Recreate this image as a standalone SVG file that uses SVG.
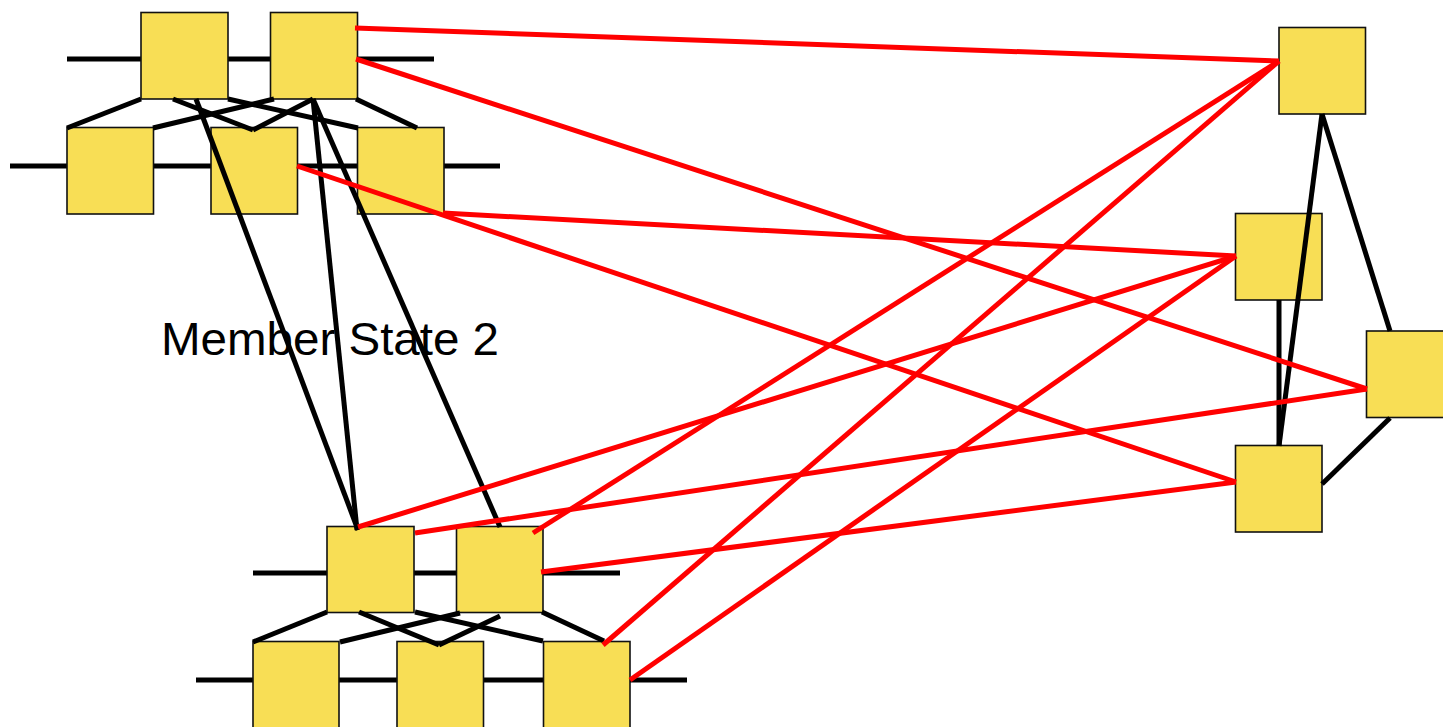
<svg xmlns="http://www.w3.org/2000/svg" width="1443" height="727" viewBox="0 0 1443 727">
<style>
.node rect{fill:#F8DE55;stroke:#111;stroke-width:1.6}
.bus line,.blk line{stroke:#000;stroke-width:5;stroke-linecap:butt}
.red line{stroke:#FF0000;stroke-width:5;stroke-linecap:butt}
.lbl{font-family:"Liberation Sans",Arial,sans-serif;font-size:46px;fill:#000}
</style>
<rect width="1443" height="727" fill="#fff"/>
<g id="buses" class="bus">
<line x1="67" y1="59" x2="434" y2="59"/>
<line x1="10" y1="166" x2="500" y2="166"/>
<line x1="253" y1="573" x2="620" y2="573"/>
<line x1="196" y1="680" x2="687" y2="680"/>
</g>
<g id="nodeA" class="node"><rect x="141" y="12.5" width="87" height="86.5"/></g>
<g id="nodeB" class="node"><rect x="270.5" y="12.5" width="87" height="86.5"/></g>
<g id="nodeC" class="node"><rect x="67" y="127.5" width="86.5" height="86.5"/></g>
<g id="nodeD" class="node"><rect x="211" y="127.5" width="86.5" height="86.5"/></g>
<g id="nodeE" class="node"><rect x="357.5" y="127.5" width="86.5" height="86.5"/></g>
<g id="nodeF" class="node"><rect x="327" y="526.5" width="87" height="86"/></g>
<g id="nodeG" class="node"><rect x="456.5" y="526.5" width="86.5" height="86"/></g>
<g id="nodeH" class="node"><rect x="253" y="641.5" width="86" height="90"/></g>
<g id="nodeI" class="node"><rect x="397" y="641.5" width="86.5" height="90"/></g>
<g id="nodeJ" class="node"><rect x="543.5" y="641.5" width="86.5" height="90"/></g>
<g id="nodeK" class="node"><rect x="1279" y="27.5" width="86.5" height="86.5"/></g>
<g id="nodeM" class="node"><rect x="1235.5" y="213.5" width="86.5" height="86.5"/></g>
<g id="nodeN" class="node"><rect x="1366.5" y="331" width="86.5" height="86.5"/></g>
<g id="nodeL" class="node"><rect x="1235.5" y="445.5" width="86.5" height="86.5"/></g>
<g id="connectors">
<g class="blk">
<line x1="141" y1="99" x2="67" y2="128"/>
<line x1="173" y1="99" x2="253" y2="130"/>
<line x1="274" y1="99" x2="153" y2="128"/>
<line x1="313" y1="99" x2="253" y2="130"/>
<line x1="228" y1="99" x2="358" y2="128"/>
<line x1="356" y1="99" x2="417" y2="128"/>
<line x1="196" y1="99" x2="358" y2="530"/>
<line x1="313" y1="99" x2="357" y2="530"/>
<line x1="313" y1="99" x2="500" y2="527"/>
<line x1="327" y1="612" x2="253" y2="642"/>
<line x1="359" y1="612" x2="439" y2="645"/>
<line x1="460" y1="613" x2="340" y2="642"/>
<line x1="500" y1="616" x2="439" y2="645"/>
<line x1="415" y1="612" x2="543" y2="641"/>
<line x1="542" y1="612" x2="604" y2="641"/>
<line x1="1322" y1="114" x2="1279" y2="446"/>
<line x1="1322" y1="114" x2="1390" y2="331"/>
<line x1="1279" y1="300" x2="1279" y2="446"/>
<line x1="1390" y1="418" x2="1322" y2="484"/>
</g>
<g class="red">
<line x1="355" y1="28" x2="1279" y2="61"/>
<line x1="356" y1="59" x2="1367" y2="389"/>
<line x1="443" y1="213" x2="1236" y2="256"/>
<line x1="297" y1="166" x2="1236" y2="482"/>
<line x1="358" y1="527" x2="1236" y2="256"/>
<line x1="415" y1="533" x2="1367" y2="389"/>
<line x1="533" y1="533" x2="1279" y2="61"/>
<line x1="541" y1="572" x2="1236" y2="482"/>
<line x1="603" y1="645" x2="1279" y2="61"/>
<line x1="630" y1="680" x2="1236" y2="256"/>
</g>
</g>
<text class="lbl" x="161" y="355" textLength="338" lengthAdjust="spacingAndGlyphs">Member State 2</text>
</svg>
